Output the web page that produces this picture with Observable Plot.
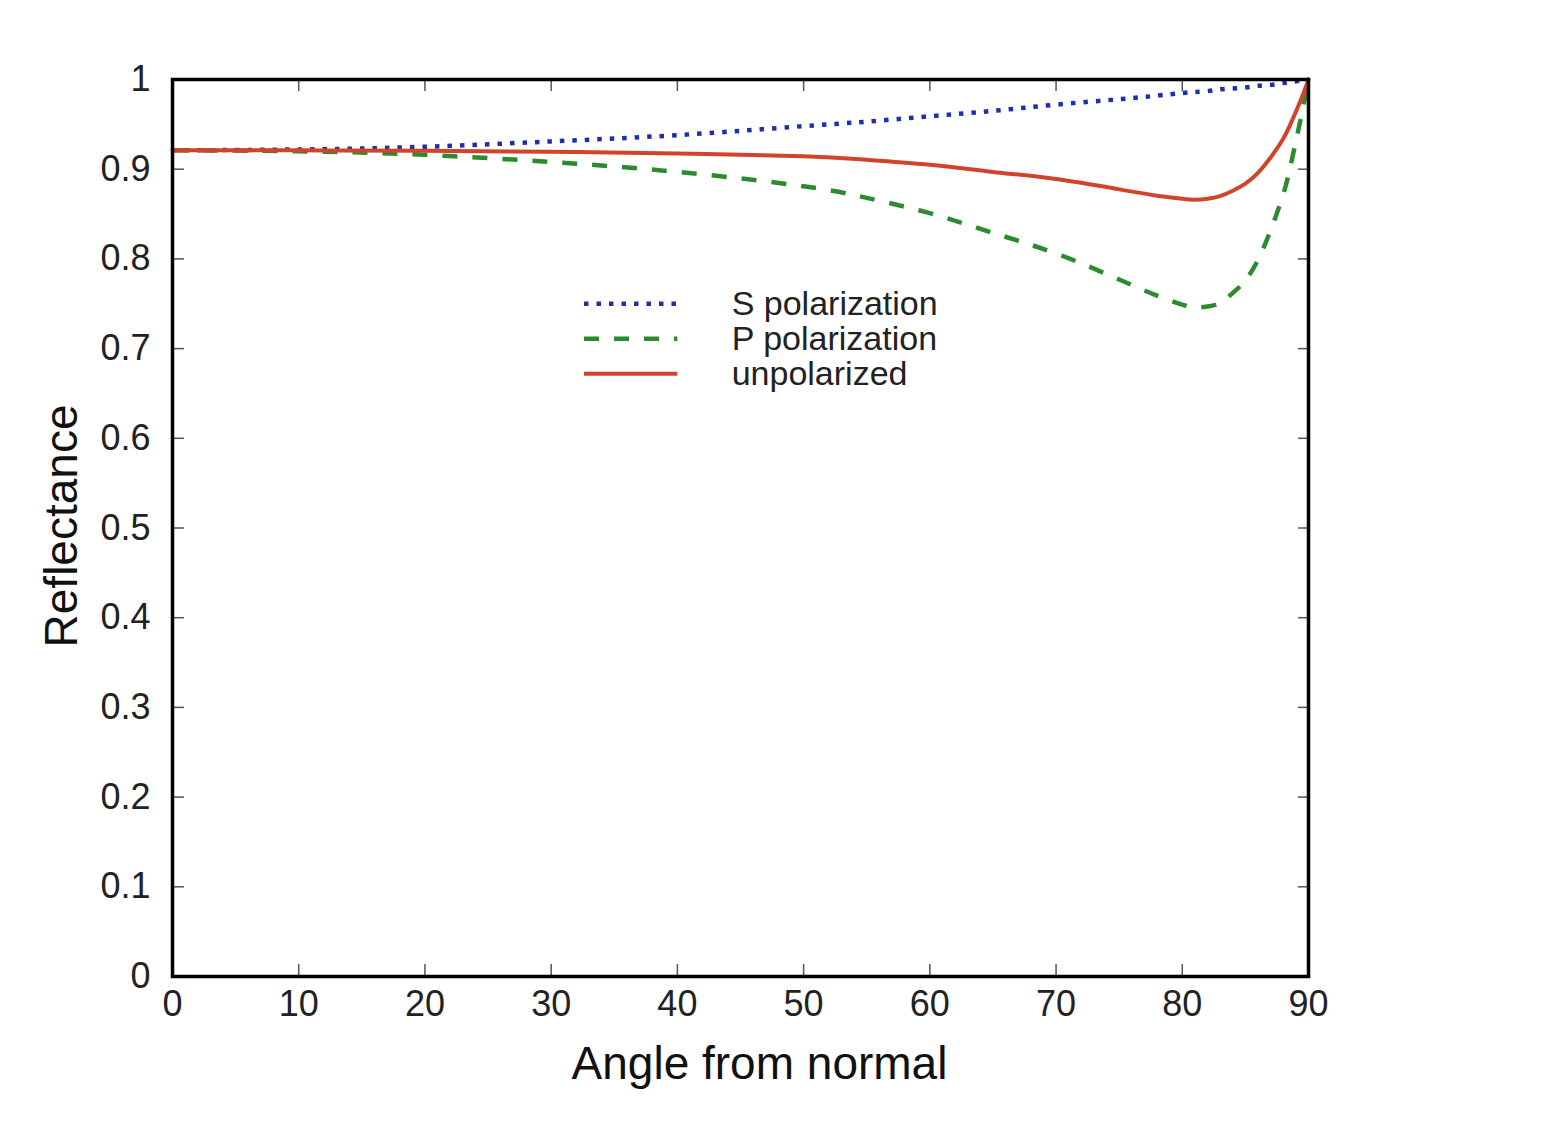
<!DOCTYPE html>
<html>
<head>
<meta charset="utf-8">
<script src="https://cdn.jsdelivr.net/npm/d3@7"></script>
<script src="https://cdn.jsdelivr.net/npm/@observablehq/plot@0.6"></script>
<style>
  html, body { margin: 0; padding: 0; background: #fff; }
  #chart svg { display: block; }
</style>
</head>
<body>
<div id="chart"></div>
<script>
// ---- data ----
const angles = [0, 10, 20, 30, 40, 50, 55, 60, 65, 70, 75, 78, 80, 81, 82, 83, 84, 85, 86, 87, 88, 88.5, 89, 89.5, 90];
const sPol   = [0.921, 0.922, 0.925, 0.931, 0.938, 0.948, 0.953, 0.959, 0.965, 0.972, 0.978, 0.982, 0.985, 0.986, 0.987, 0.989, 0.990, 0.991, 0.993, 0.994, 0.996, 0.997, 0.998, 0.999, 1.0];
const pPol   = [0.921, 0.920, 0.916, 0.908, 0.897, 0.881, 0.868, 0.851, 0.829, 0.806, 0.777, 0.759, 0.749, 0.746, 0.747, 0.751, 0.762, 0.776, 0.799, 0.832, 0.872, 0.899, 0.931, 0.964, 1.0];
const unpol  = [0.921, 0.921, 0.9205, 0.9195, 0.9175, 0.9145, 0.9105, 0.905, 0.897, 0.889, 0.8775, 0.8705, 0.867, 0.866, 0.867, 0.870, 0.876, 0.884, 0.896, 0.913, 0.934, 0.948, 0.964, 0.981, 1.0];

const seriesNames = ["S polarization", "P polarization", "unpolarized"];
const xTicks = [0, 10, 20, 30, 40, 50, 60, 70, 80, 90];
const yTicks = [0, 0.1, 0.2, 0.3, 0.4, 0.5, 0.6, 0.7, 0.8, 0.9, 1];
const xTitle = "Angle from normal";
const yTitle = "Reflectance";

// legend placement in data units (inside the frame)
const legendX = [32.6, 40.0, 44.3];      // line start, line end, text start
const legendY = [0.750, 0.711, 0.672];

// ---- styles ----
const styles = [
  {stroke: "#1f2fa8", strokeWidth: 4.5, dash: "4.5 8", cap: "butt"},
  {stroke: "#2e8a2e", strokeWidth: 4.5, dash: "15 15", cap: "butt"},
  {stroke: "#d2432b", strokeWidth: 4, dash: null, cap: "round"}
];
const seriesValues = [sPol, pPol, unpol];

const W = 1565, H = 1147;
const mL = 172, mR = 257, mT = 79, mB = 171;
const fw = W - mL - mR, fh = H - mT - mB;
const tickLen = 12;

const marks = [];

// tick marks, inward on all four sides
const tickStyle = {stroke: "#555", strokeWidth: 1.5};
marks.push(Plot.tickX(xTicks, {x: d => d, insetTop: fh - tickLen, ...tickStyle}));
marks.push(Plot.tickX(xTicks, {x: d => d, insetBottom: fh - tickLen, ...tickStyle}));
marks.push(Plot.tickY(yTicks, {y: d => d, insetRight: fw - tickLen, ...tickStyle}));
marks.push(Plot.tickY(yTicks, {y: d => d, insetLeft: fw - 10, ...tickStyle}));

// axes (labels only)
marks.push(Plot.axisX(xTicks, {tickSize: 0, tickPadding: 14, label: null, fontSize: 36, fill: "#222"}));
marks.push(Plot.axisY(yTicks, {tickSize: 0, tickPadding: 22, label: null, fontSize: 36, fill: "#222",
  tickFormat: d => d === 0 || d === 1 ? String(d) : d3.format(".1f")(d)}));

// data lines
seriesNames.forEach((name, i) => {
  const rows = angles.map((a, j) => ({angle: a, value: seriesValues[i][j]}));
  const s = styles[i];
  marks.push(Plot.line(rows, {
    x: "angle", y: "value", curve: "natural",
    stroke: s.stroke, strokeWidth: s.strokeWidth,
    strokeDasharray: s.dash, strokeLinecap: s.cap
  }));
});

// legend
seriesNames.forEach((name, i) => {
  const s = styles[i];
  marks.push(Plot.link([name], {
    x1: () => legendX[0], x2: () => legendX[1], y1: () => legendY[i], y2: () => legendY[i],
    stroke: s.stroke, strokeWidth: s.strokeWidth, strokeDasharray: s.dash, strokeLinecap: "butt"
  }));
});
marks.push(Plot.text(seriesNames, {
  x: () => legendX[2], y: (d, i) => legendY[i], text: d => d,
  textAnchor: "start", fontSize: 34, fill: "#222"
}));

// frame
marks.push(Plot.frame({stroke: "#000", strokeWidth: 3.5}));

// axis titles
marks.push(Plot.text([xTitle], {frameAnchor: "bottom", text: d => d, textAnchor: "middle", lineAnchor: "middle",
  dy: 88, dx: 19, fontSize: 46, fill: "#111"}));
marks.push(Plot.text([yTitle], {frameAnchor: "left", text: d => d, textAnchor: "middle", lineAnchor: "middle",
  rotate: -90, dx: -110, dy: -2, fontSize: 46, fill: "#111"}));

const chart = Plot.plot({
  width: W, height: H,
  marginLeft: mL, marginRight: mR, marginTop: mT, marginBottom: mB,
  style: {fontFamily: "'Liberation Sans', Arial, Helvetica, sans-serif", background: "#fff", overflow: "visible"},
  x: {domain: [0, 90]},
  y: {domain: [0, 1]},
  marks
});
document.getElementById("chart").appendChild(chart);
</script>
</body>
</html>
